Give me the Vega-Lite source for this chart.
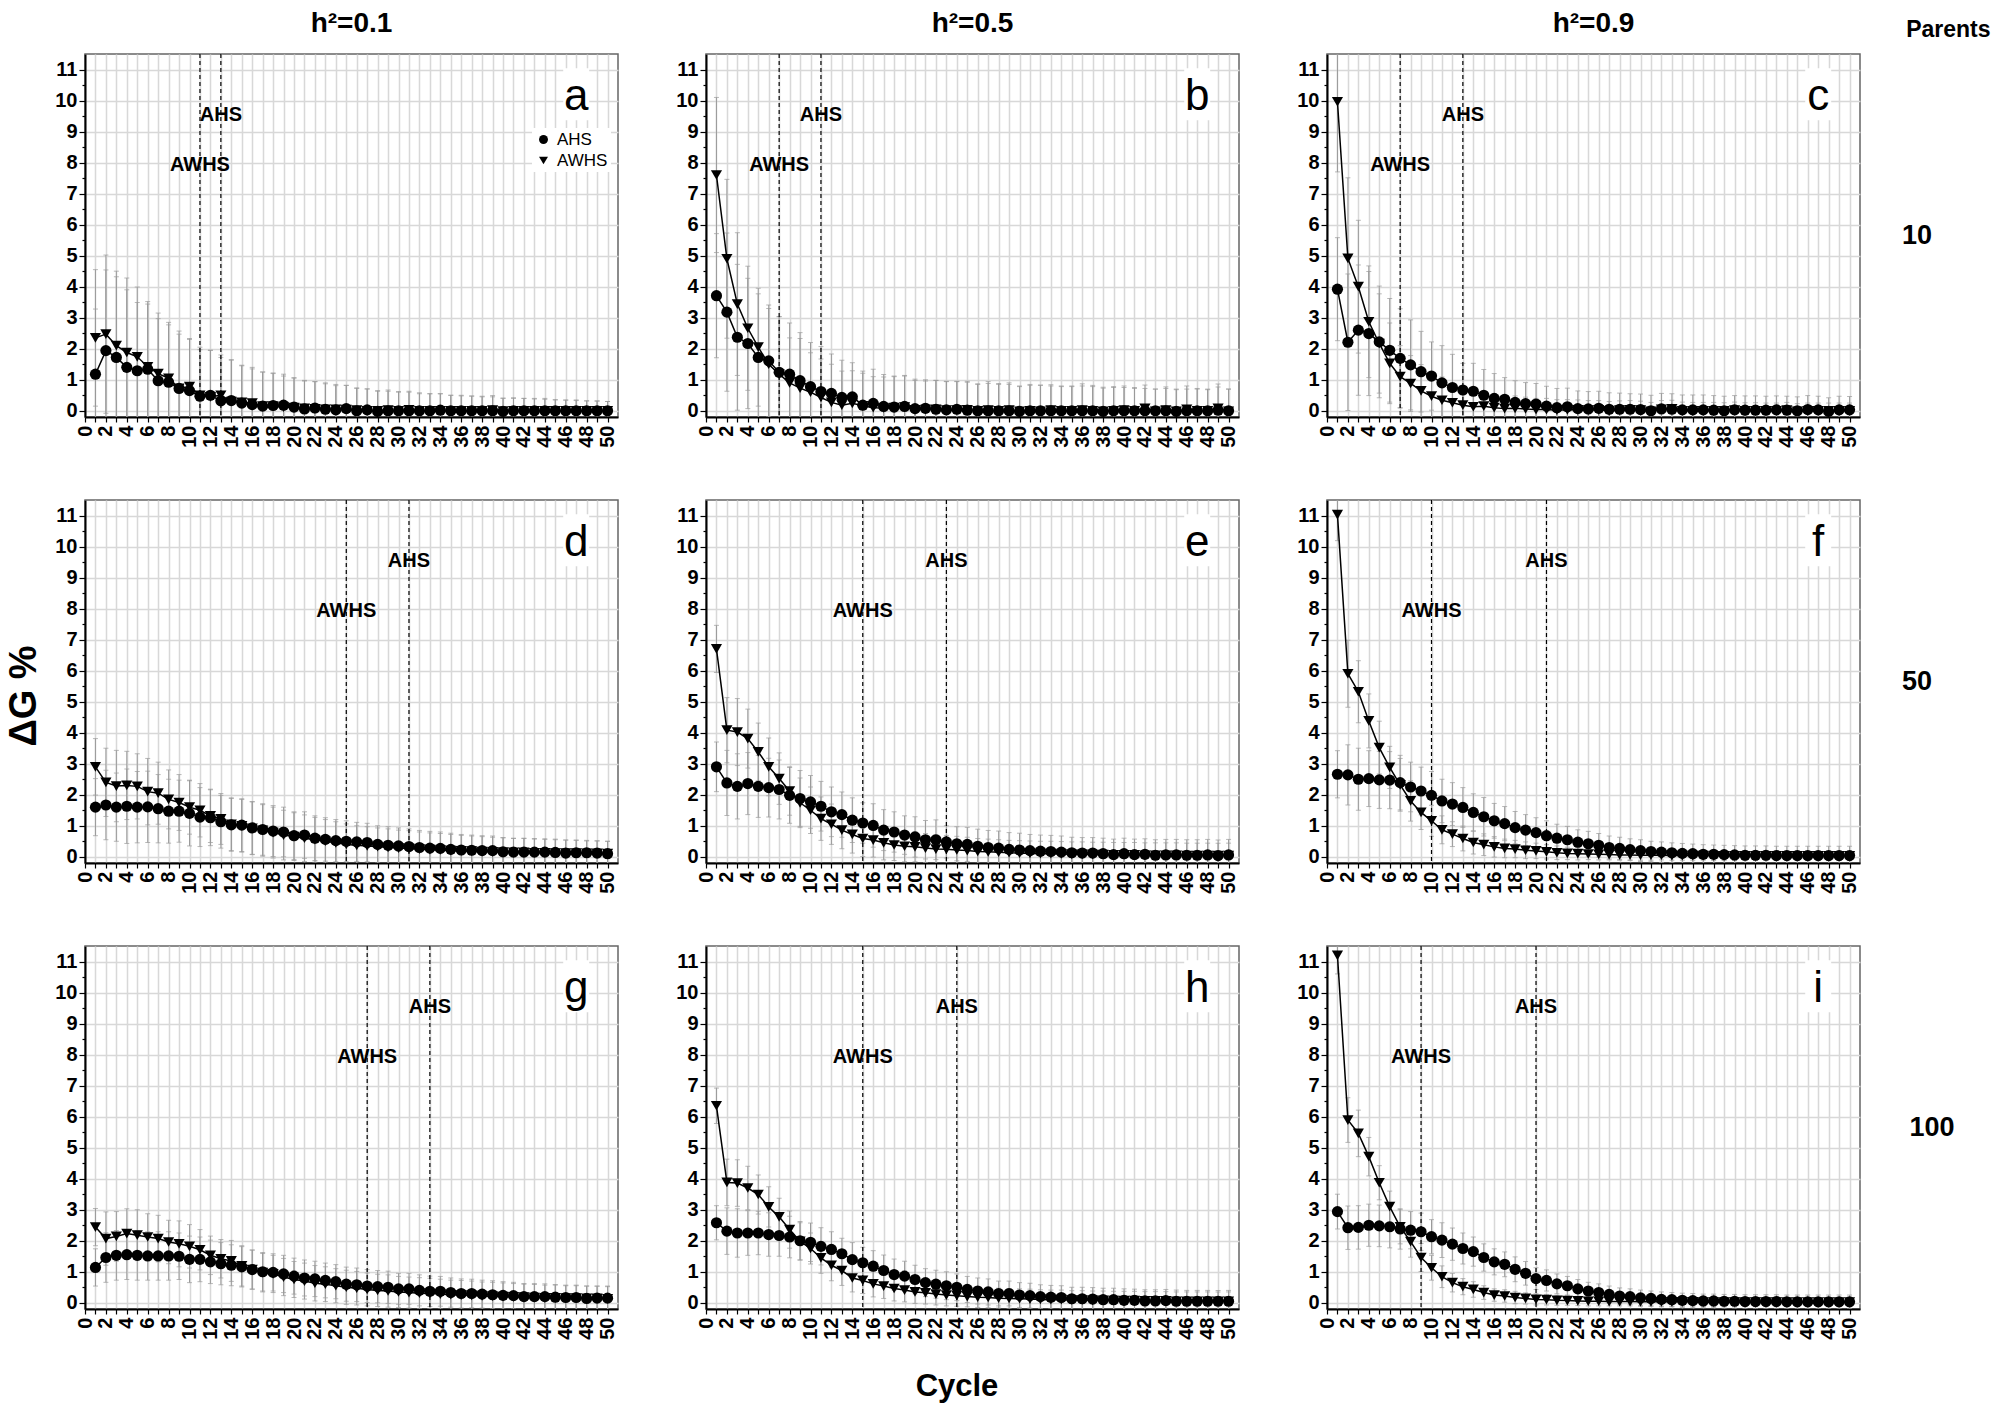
{
"$schema":"https://vega.github.io/schema/vega-lite/v6.json",
"padding":{"left":6,"top":10,"right":5,"bottom":5},
"config":{"font":"Liberation Sans","view":{"stroke":"#666","strokeWidth":1.5},
 "axisX":{"labelAngle":-90,"labelFontSize":20,"labelFontWeight":"bold","labelColor":"black","labelOverlap":false,"labelFlush":false,"labelPadding":3,"tickSize":5,"tickColor":"black","tickWidth":1.2,"domainColor":"black","domainWidth":2,"grid":true,"gridColor":"#d8d8d8","gridWidth":1.5},
 "axisY":{"labelFontSize":20,"labelFontWeight":"bold","labelColor":"black","labelOverlap":false,"labelPadding":2,"tickColor":"black","tickWidth":1.2,"domainColor":"black","domainWidth":2,"grid":true,"gridColor":"#d8d8d8","gridWidth":1.5}},
"title":{"text":"Parents","anchor":"end","fontSize":23,"fontWeight":"bold","color":"black","dy":36,"dx":36},
"data":{"values":[
{"p":"a","s":"AHS","v":13},{"p":"a","s":"AWHS","v":11},
{"p":"b","s":"AHS","v":11},{"p":"b","s":"AWHS","v":7},
{"p":"c","s":"AHS","v":13},{"p":"c","s":"AWHS","v":7},
{"p":"d","s":"AHS","v":31},{"p":"d","s":"AWHS","v":25},
{"p":"e","s":"AHS","v":23},{"p":"e","s":"AWHS","v":15},
{"p":"f","s":"AHS","v":21},{"p":"f","s":"AWHS","v":10},
{"p":"g","s":"AHS","v":33},{"p":"g","s":"AWHS","v":27},
{"p":"h","s":"AHS","v":24},{"p":"h","s":"AWHS","v":15},
{"p":"i","s":"AHS","v":20},{"p":"i","s":"AWHS","v":9},
{"p":"a","s":"AHS","c":1,"m":1.18,"e":2.1},{"p":"a","s":"AHS","c":2,"m":1.94,"e":2.6},{"p":"a","s":"AHS","c":3,"m":1.72,"e":2.6},{"p":"a","s":"AHS","c":4,"m":1.4,"e":2.5},{"p":"a","s":"AHS","c":5,"m":1.29,"e":2.2},{"p":"a","s":"AHS","c":6,"m":1.34,"e":2.1},{"p":"a","s":"AHS","c":7,"m":0.97,"e":2.0},{"p":"a","s":"AHS","c":8,"m":0.92,"e":1.85},{"p":"a","s":"AHS","c":9,"m":0.72,"e":1.75},{"p":"a","s":"AHS","c":10,"m":0.65,"e":1.65},
{"p":"a","s":"AHS","c":11,"m":0.47,"e":1.5},{"p":"a","s":"AHS","c":12,"m":0.5,"e":1.45},{"p":"a","s":"AHS","c":13,"m":0.32,"e":1.4},{"p":"a","s":"AHS","c":14,"m":0.33,"e":1.3},{"p":"a","s":"AHS","c":15,"m":0.25,"e":1.2},{"p":"a","s":"AHS","c":16,"m":0.2,"e":1.15},{"p":"a","s":"AHS","c":17,"m":0.15,"e":1.1},{"p":"a","s":"AHS","c":18,"m":0.17,"e":1.05},{"p":"a","s":"AHS","c":19,"m":0.18,"e":1.0},{"p":"a","s":"AHS","c":20,"m":0.12,"e":0.95},
{"p":"a","s":"AHS","c":21,"m":0.06,"e":0.9},{"p":"a","s":"AHS","c":22,"m":0.09,"e":0.85},{"p":"a","s":"AHS","c":23,"m":0.05,"e":0.82},{"p":"a","s":"AHS","c":24,"m":0.03,"e":0.78},{"p":"a","s":"AHS","c":25,"m":0.07,"e":0.75},{"p":"a","s":"AHS","c":26,"m":0.0,"e":0.72},{"p":"a","s":"AHS","c":27,"m":0.03,"e":0.68},{"p":"a","s":"AHS","c":28,"m":-0.02,"e":0.65},{"p":"a","s":"AHS","c":29,"m":0.0,"e":0.63},{"p":"a","s":"AHS","c":30,"m":0.0,"e":0.6},
{"p":"a","s":"AHS","c":31,"m":0.0,"e":0.6},{"p":"a","s":"AHS","c":32,"m":0.0,"e":0.55},{"p":"a","s":"AHS","c":33,"m":0.0,"e":0.55},{"p":"a","s":"AHS","c":34,"m":0.02,"e":0.53},{"p":"a","s":"AHS","c":35,"m":0.0,"e":0.5},{"p":"a","s":"AHS","c":36,"m":0.0,"e":0.48},{"p":"a","s":"AHS","c":37,"m":0.0,"e":0.47},{"p":"a","s":"AHS","c":38,"m":0.0,"e":0.45},{"p":"a","s":"AHS","c":39,"m":0.0,"e":0.45},{"p":"a","s":"AHS","c":40,"m":-0.02,"e":0.42},
{"p":"a","s":"AHS","c":41,"m":0.0,"e":0.4},{"p":"a","s":"AHS","c":42,"m":0.0,"e":0.4},{"p":"a","s":"AHS","c":43,"m":0.0,"e":0.38},{"p":"a","s":"AHS","c":44,"m":0.0,"e":0.37},{"p":"a","s":"AHS","c":45,"m":0.0,"e":0.35},{"p":"a","s":"AHS","c":46,"m":0.0,"e":0.34},{"p":"a","s":"AHS","c":47,"m":0.0,"e":0.33},{"p":"a","s":"AHS","c":48,"m":0.0,"e":0.32},{"p":"a","s":"AHS","c":49,"m":0.0,"e":0.31},{"p":"a","s":"AHS","c":50,"m":0.0,"e":0.3},
{"p":"a","s":"AWHS","c":1,"m":2.35,"e":2.2},{"p":"a","s":"AWHS","c":2,"m":2.47,"e":2.55},{"p":"a","s":"AWHS","c":3,"m":2.1,"e":2.4},{"p":"a","s":"AWHS","c":4,"m":1.88,"e":2.4},{"p":"a","s":"AWHS","c":5,"m":1.74,"e":2.25},{"p":"a","s":"AWHS","c":6,"m":1.42,"e":2.1},{"p":"a","s":"AWHS","c":7,"m":1.2,"e":1.95},{"p":"a","s":"AWHS","c":8,"m":1.05,"e":1.8},{"p":"a","s":"AWHS","c":9,"m":0.72,"e":1.85},{"p":"a","s":"AWHS","c":10,"m":0.78,"e":1.55},
{"p":"a","s":"AWHS","c":11,"m":0.5,"e":1.55},{"p":"a","s":"AWHS","c":12,"m":0.45,"e":1.5},{"p":"a","s":"AWHS","c":13,"m":0.5,"e":1.3},{"p":"a","s":"AWHS","c":14,"m":0.3,"e":1.35},{"p":"a","s":"AWHS","c":15,"m":0.27,"e":1.2},{"p":"a","s":"AWHS","c":16,"m":0.25,"e":1.15},{"p":"a","s":"AWHS","c":17,"m":0.15,"e":1.1},{"p":"a","s":"AWHS","c":18,"m":0.15,"e":1.05},{"p":"a","s":"AWHS","c":19,"m":0.12,"e":1.0},{"p":"a","s":"AWHS","c":20,"m":0.1,"e":0.95},
{"p":"a","s":"AWHS","c":21,"m":0.08,"e":0.9},{"p":"a","s":"AWHS","c":22,"m":0.06,"e":0.88},{"p":"a","s":"AWHS","c":23,"m":0.05,"e":0.85},{"p":"a","s":"AWHS","c":24,"m":0.05,"e":0.8},{"p":"a","s":"AWHS","c":25,"m":0.04,"e":0.78},{"p":"a","s":"AWHS","c":26,"m":0.02,"e":0.72},{"p":"a","s":"AWHS","c":27,"m":0.0,"e":0.7},{"p":"a","s":"AWHS","c":28,"m":0.0,"e":0.65},{"p":"a","s":"AWHS","c":29,"m":0.02,"e":0.65},{"p":"a","s":"AWHS","c":30,"m":0.0,"e":0.62},
{"p":"a","s":"AWHS","c":31,"m":0.03,"e":0.6},{"p":"a","s":"AWHS","c":32,"m":0.0,"e":0.58},{"p":"a","s":"AWHS","c":33,"m":0.0,"e":0.55},{"p":"a","s":"AWHS","c":34,"m":0.0,"e":0.55},{"p":"a","s":"AWHS","c":35,"m":0.0,"e":0.5},{"p":"a","s":"AWHS","c":36,"m":0.0,"e":0.5},{"p":"a","s":"AWHS","c":37,"m":0.0,"e":0.48},{"p":"a","s":"AWHS","c":38,"m":0.0,"e":0.47},{"p":"a","s":"AWHS","c":39,"m":0.02,"e":0.47},{"p":"a","s":"AWHS","c":40,"m":-0.01,"e":0.42},
{"p":"a","s":"AWHS","c":41,"m":0.0,"e":0.42},{"p":"a","s":"AWHS","c":42,"m":0.0,"e":0.4},{"p":"a","s":"AWHS","c":43,"m":0.0,"e":0.4},{"p":"a","s":"AWHS","c":44,"m":0.0,"e":0.4},{"p":"a","s":"AWHS","c":45,"m":0.0,"e":0.36},{"p":"a","s":"AWHS","c":46,"m":0.0,"e":0.35},{"p":"a","s":"AWHS","c":47,"m":0.0,"e":0.35},{"p":"a","s":"AWHS","c":48,"m":0.0,"e":0.32},{"p":"a","s":"AWHS","c":49,"m":0.0,"e":0.32},{"p":"a","s":"AWHS","c":50,"m":0.0,"e":0.3},
{"p":"b","s":"AHS","c":1,"m":3.71,"e":2.0},{"p":"b","s":"AHS","c":2,"m":3.18,"e":2.55},{"p":"b","s":"AHS","c":3,"m":2.37,"e":2.35},{"p":"b","s":"AHS","c":4,"m":2.17,"e":2.1},{"p":"b","s":"AHS","c":5,"m":1.72,"e":2.05},{"p":"b","s":"AHS","c":6,"m":1.61,"e":1.8},{"p":"b","s":"AHS","c":7,"m":1.24,"e":1.8},{"p":"b","s":"AHS","c":8,"m":1.18,"e":1.65},{"p":"b","s":"AHS","c":9,"m":0.97,"e":1.55},{"p":"b","s":"AHS","c":10,"m":0.78,"e":1.42},
{"p":"b","s":"AHS","c":11,"m":0.62,"e":1.45},{"p":"b","s":"AHS","c":12,"m":0.56,"e":1.27},{"p":"b","s":"AHS","c":13,"m":0.43,"e":1.2},{"p":"b","s":"AHS","c":14,"m":0.45,"e":1.1},{"p":"b","s":"AHS","c":15,"m":0.18,"e":1.1},{"p":"b","s":"AHS","c":16,"m":0.24,"e":1.1},{"p":"b","s":"AHS","c":17,"m":0.14,"e":1.03},{"p":"b","s":"AHS","c":18,"m":0.12,"e":1.0},{"p":"b","s":"AHS","c":19,"m":0.14,"e":1.0},{"p":"b","s":"AHS","c":20,"m":0.07,"e":0.95},
{"p":"b","s":"AHS","c":21,"m":0.08,"e":0.92},{"p":"b","s":"AHS","c":22,"m":0.05,"e":0.93},{"p":"b","s":"AHS","c":23,"m":0.03,"e":0.92},{"p":"b","s":"AHS","c":24,"m":0.05,"e":0.9},{"p":"b","s":"AHS","c":25,"m":0.02,"e":0.9},{"p":"b","s":"AHS","c":26,"m":0.0,"e":0.85},{"p":"b","s":"AHS","c":27,"m":0.0,"e":0.88},{"p":"b","s":"AHS","c":28,"m":0.0,"e":0.85},{"p":"b","s":"AHS","c":29,"m":0.0,"e":0.85},{"p":"b","s":"AHS","c":30,"m":-0.02,"e":0.8},
{"p":"b","s":"AHS","c":31,"m":0.0,"e":0.82},{"p":"b","s":"AHS","c":32,"m":0.0,"e":0.82},{"p":"b","s":"AHS","c":33,"m":0.0,"e":0.8},{"p":"b","s":"AHS","c":34,"m":0.0,"e":0.78},{"p":"b","s":"AHS","c":35,"m":0.0,"e":0.78},{"p":"b","s":"AHS","c":36,"m":0.0,"e":0.8},{"p":"b","s":"AHS","c":37,"m":0.0,"e":0.78},{"p":"b","s":"AHS","c":38,"m":-0.02,"e":0.75},{"p":"b","s":"AHS","c":39,"m":0.0,"e":0.75},{"p":"b","s":"AHS","c":40,"m":0.0,"e":0.75},
{"p":"b","s":"AHS","c":41,"m":0.0,"e":0.72},{"p":"b","s":"AHS","c":42,"m":0.0,"e":0.72},{"p":"b","s":"AHS","c":43,"m":0.0,"e":0.7},{"p":"b","s":"AHS","c":44,"m":0.0,"e":0.72},{"p":"b","s":"AHS","c":45,"m":-0.02,"e":0.7},{"p":"b","s":"AHS","c":46,"m":0.0,"e":0.7},{"p":"b","s":"AHS","c":47,"m":0.0,"e":0.7},{"p":"b","s":"AHS","c":48,"m":0.0,"e":0.68},{"p":"b","s":"AHS","c":49,"m":0.02,"e":0.75},{"p":"b","s":"AHS","c":50,"m":0.0,"e":0.7},
{"p":"b","s":"AWHS","c":1,"m":7.6,"e":2.5},{"p":"b","s":"AWHS","c":2,"m":4.9,"e":2.56},{"p":"b","s":"AWHS","c":3,"m":3.44,"e":2.3},{"p":"b","s":"AWHS","c":4,"m":2.66,"e":2.0},{"p":"b","s":"AWHS","c":5,"m":2.05,"e":1.9},{"p":"b","s":"AWHS","c":6,"m":1.5,"e":1.8},{"p":"b","s":"AWHS","c":7,"m":1.18,"e":1.85},{"p":"b","s":"AWHS","c":8,"m":0.9,"e":1.45},{"p":"b","s":"AWHS","c":9,"m":0.73,"e":1.6},{"p":"b","s":"AWHS","c":10,"m":0.6,"e":1.27},
{"p":"b","s":"AWHS","c":11,"m":0.43,"e":1.24},{"p":"b","s":"AWHS","c":12,"m":0.27,"e":1.23},{"p":"b","s":"AWHS","c":13,"m":0.18,"e":1.1},{"p":"b","s":"AWHS","c":14,"m":0.24,"e":1.05},{"p":"b","s":"AWHS","c":15,"m":0.16,"e":1.05},{"p":"b","s":"AWHS","c":16,"m":0.1,"e":1.0},{"p":"b","s":"AWHS","c":17,"m":0.09,"e":1.0},{"p":"b","s":"AWHS","c":18,"m":0.1,"e":1.0},{"p":"b","s":"AWHS","c":19,"m":0.12,"e":1.0},{"p":"b","s":"AWHS","c":20,"m":0.03,"e":0.95},
{"p":"b","s":"AWHS","c":21,"m":0.04,"e":0.92},{"p":"b","s":"AWHS","c":22,"m":0.05,"e":0.93},{"p":"b","s":"AWHS","c":23,"m":0.02,"e":0.92},{"p":"b","s":"AWHS","c":24,"m":0.02,"e":0.92},{"p":"b","s":"AWHS","c":25,"m":0.03,"e":0.92},{"p":"b","s":"AWHS","c":26,"m":0.0,"e":0.87},{"p":"b","s":"AWHS","c":27,"m":0.02,"e":0.92},{"p":"b","s":"AWHS","c":28,"m":0.0,"e":0.88},{"p":"b","s":"AWHS","c":29,"m":0.02,"e":0.88},{"p":"b","s":"AWHS","c":30,"m":-0.02,"e":0.82},
{"p":"b","s":"AWHS","c":31,"m":0.0,"e":0.85},{"p":"b","s":"AWHS","c":32,"m":-0.02,"e":0.85},{"p":"b","s":"AWHS","c":33,"m":0.02,"e":0.82},{"p":"b","s":"AWHS","c":34,"m":0.0,"e":0.8},{"p":"b","s":"AWHS","c":35,"m":0.0,"e":0.8},{"p":"b","s":"AWHS","c":36,"m":0.02,"e":0.85},{"p":"b","s":"AWHS","c":37,"m":0.0,"e":0.82},{"p":"b","s":"AWHS","c":38,"m":-0.02,"e":0.78},{"p":"b","s":"AWHS","c":39,"m":0.0,"e":0.78},{"p":"b","s":"AWHS","c":40,"m":0.02,"e":0.78},
{"p":"b","s":"AWHS","c":41,"m":0.0,"e":0.75},{"p":"b","s":"AWHS","c":42,"m":0.08,"e":0.75},{"p":"b","s":"AWHS","c":43,"m":-0.02,"e":0.72},{"p":"b","s":"AWHS","c":44,"m":0.02,"e":0.75},{"p":"b","s":"AWHS","c":45,"m":-0.02,"e":0.72},{"p":"b","s":"AWHS","c":46,"m":0.05,"e":0.75},{"p":"b","s":"AWHS","c":47,"m":0.0,"e":0.72},{"p":"b","s":"AWHS","c":48,"m":0.0,"e":0.7},{"p":"b","s":"AWHS","c":49,"m":0.08,"e":0.78},{"p":"b","s":"AWHS","c":50,"m":-0.02,"e":0.72},
{"p":"c","s":"AHS","c":1,"m":3.92,"e":1.66},{"p":"c","s":"AHS","c":2,"m":2.21,"e":2.2},{"p":"c","s":"AHS","c":3,"m":2.6,"e":2.1},{"p":"c","s":"AHS","c":4,"m":2.49,"e":2.0},{"p":"c","s":"AHS","c":5,"m":2.22,"e":1.8},{"p":"c","s":"AHS","c":6,"m":1.95,"e":1.67},{"p":"c","s":"AHS","c":7,"m":1.69,"e":1.6},{"p":"c","s":"AHS","c":8,"m":1.48,"e":1.45},{"p":"c","s":"AHS","c":9,"m":1.26,"e":1.3},{"p":"c","s":"AHS","c":10,"m":1.12,"e":1.1},
{"p":"c","s":"AHS","c":11,"m":0.9,"e":1.2},{"p":"c","s":"AHS","c":12,"m":0.75,"e":1.07},{"p":"c","s":"AHS","c":13,"m":0.67,"e":0.86},{"p":"c","s":"AHS","c":14,"m":0.63,"e":0.9},{"p":"c","s":"AHS","c":15,"m":0.5,"e":0.83},{"p":"c","s":"AHS","c":16,"m":0.4,"e":0.8},{"p":"c","s":"AHS","c":17,"m":0.37,"e":0.7},{"p":"c","s":"AHS","c":18,"m":0.27,"e":0.7},{"p":"c","s":"AHS","c":19,"m":0.23,"e":0.68},{"p":"c","s":"AHS","c":20,"m":0.22,"e":0.66},
{"p":"c","s":"AHS","c":21,"m":0.15,"e":0.64},{"p":"c","s":"AHS","c":22,"m":0.1,"e":0.62},{"p":"c","s":"AHS","c":23,"m":0.13,"e":0.6},{"p":"c","s":"AHS","c":24,"m":0.07,"e":0.57},{"p":"c","s":"AHS","c":25,"m":0.06,"e":0.56},{"p":"c","s":"AHS","c":26,"m":0.08,"e":0.55},{"p":"c","s":"AHS","c":27,"m":0.05,"e":0.53},{"p":"c","s":"AHS","c":28,"m":0.05,"e":0.52},{"p":"c","s":"AHS","c":29,"m":0.05,"e":0.5},{"p":"c","s":"AHS","c":30,"m":0.04,"e":0.5},
{"p":"c","s":"AHS","c":31,"m":0.0,"e":0.5},{"p":"c","s":"AHS","c":32,"m":0.06,"e":0.5},{"p":"c","s":"AHS","c":33,"m":0.05,"e":0.5},{"p":"c","s":"AHS","c":34,"m":0.03,"e":0.48},{"p":"c","s":"AHS","c":35,"m":0.03,"e":0.48},{"p":"c","s":"AHS","c":36,"m":0.03,"e":0.48},{"p":"c","s":"AHS","c":37,"m":0.02,"e":0.47},{"p":"c","s":"AHS","c":38,"m":0.0,"e":0.47},{"p":"c","s":"AHS","c":39,"m":0.03,"e":0.46},{"p":"c","s":"AHS","c":40,"m":0.02,"e":0.46},
{"p":"c","s":"AHS","c":41,"m":0.02,"e":0.46},{"p":"c","s":"AHS","c":42,"m":0.02,"e":0.45},{"p":"c","s":"AHS","c":43,"m":0.03,"e":0.45},{"p":"c","s":"AHS","c":44,"m":0.02,"e":0.45},{"p":"c","s":"AHS","c":45,"m":0.0,"e":0.45},{"p":"c","s":"AHS","c":46,"m":0.04,"e":0.45},{"p":"c","s":"AHS","c":47,"m":0.03,"e":0.44},{"p":"c","s":"AHS","c":48,"m":-0.02,"e":0.44},{"p":"c","s":"AHS","c":49,"m":0.03,"e":0.44},{"p":"c","s":"AHS","c":50,"m":0.03,"e":0.43},
{"p":"c","s":"AWHS","c":1,"m":9.96,"e":2.26},{"p":"c","s":"AWHS","c":2,"m":4.91,"e":2.6},{"p":"c","s":"AWHS","c":3,"m":4.0,"e":2.14},{"p":"c","s":"AWHS","c":4,"m":2.87,"e":1.8},{"p":"c","s":"AWHS","c":5,"m":2.17,"e":1.6},{"p":"c","s":"AWHS","c":6,"m":1.53,"e":1.3},{"p":"c","s":"AWHS","c":7,"m":1.1,"e":1.0},{"p":"c","s":"AWHS","c":8,"m":0.88,"e":0.9},{"p":"c","s":"AWHS","c":9,"m":0.64,"e":0.85},{"p":"c","s":"AWHS","c":10,"m":0.47,"e":0.8},
{"p":"c","s":"AWHS","c":11,"m":0.34,"e":0.75},{"p":"c","s":"AWHS","c":12,"m":0.26,"e":0.62},{"p":"c","s":"AWHS","c":13,"m":0.18,"e":0.54},{"p":"c","s":"AWHS","c":14,"m":0.13,"e":0.5},{"p":"c","s":"AWHS","c":15,"m":0.15,"e":0.45},{"p":"c","s":"AWHS","c":16,"m":0.1,"e":0.45},{"p":"c","s":"AWHS","c":17,"m":0.07,"e":0.4},{"p":"c","s":"AWHS","c":18,"m":0.08,"e":0.4},{"p":"c","s":"AWHS","c":19,"m":0.06,"e":0.38},{"p":"c","s":"AWHS","c":20,"m":0.04,"e":0.36},
{"p":"c","s":"AWHS","c":21,"m":0.04,"e":0.36},{"p":"c","s":"AWHS","c":22,"m":0.02,"e":0.34},{"p":"c","s":"AWHS","c":23,"m":0.03,"e":0.33},{"p":"c","s":"AWHS","c":24,"m":0.03,"e":0.32},{"p":"c","s":"AWHS","c":25,"m":0.02,"e":0.31},{"p":"c","s":"AWHS","c":26,"m":0.03,"e":0.3},{"p":"c","s":"AWHS","c":27,"m":0.0,"e":0.3},{"p":"c","s":"AWHS","c":28,"m":0.02,"e":0.3},{"p":"c","s":"AWHS","c":29,"m":0.03,"e":0.3},{"p":"c","s":"AWHS","c":30,"m":0.02,"e":0.29},
{"p":"c","s":"AWHS","c":31,"m":-0.02,"e":0.29},{"p":"c","s":"AWHS","c":32,"m":0.05,"e":0.28},{"p":"c","s":"AWHS","c":33,"m":0.06,"e":0.28},{"p":"c","s":"AWHS","c":34,"m":0.0,"e":0.28},{"p":"c","s":"AWHS","c":35,"m":0.0,"e":0.27},{"p":"c","s":"AWHS","c":36,"m":0.0,"e":0.27},{"p":"c","s":"AWHS","c":37,"m":0.0,"e":0.27},{"p":"c","s":"AWHS","c":38,"m":0.0,"e":0.26},{"p":"c","s":"AWHS","c":39,"m":0.02,"e":0.26},{"p":"c","s":"AWHS","c":40,"m":0.0,"e":0.26},
{"p":"c","s":"AWHS","c":41,"m":0.0,"e":0.26},{"p":"c","s":"AWHS","c":42,"m":0.0,"e":0.25},{"p":"c","s":"AWHS","c":43,"m":0.0,"e":0.25},{"p":"c","s":"AWHS","c":44,"m":0.02,"e":0.25},{"p":"c","s":"AWHS","c":45,"m":-0.02,"e":0.25},{"p":"c","s":"AWHS","c":46,"m":0.0,"e":0.25},{"p":"c","s":"AWHS","c":47,"m":0.0,"e":0.25},{"p":"c","s":"AWHS","c":48,"m":0.0,"e":0.25},{"p":"c","s":"AWHS","c":49,"m":0.0,"e":0.25},{"p":"c","s":"AWHS","c":50,"m":0.0,"e":0.25},
{"p":"d","s":"AHS","c":1,"m":1.6,"e":0.92},{"p":"d","s":"AHS","c":2,"m":1.67,"e":1.12},{"p":"d","s":"AHS","c":3,"m":1.6,"e":1.1},{"p":"d","s":"AHS","c":4,"m":1.63,"e":1.2},{"p":"d","s":"AHS","c":5,"m":1.6,"e":1.15},{"p":"d","s":"AHS","c":6,"m":1.61,"e":1.15},{"p":"d","s":"AHS","c":7,"m":1.55,"e":1.1},{"p":"d","s":"AHS","c":8,"m":1.47,"e":1.03},{"p":"d","s":"AHS","c":9,"m":1.47,"e":1.0},{"p":"d","s":"AHS","c":10,"m":1.4,"e":1.05},
{"p":"d","s":"AHS","c":11,"m":1.28,"e":0.95},{"p":"d","s":"AHS","c":12,"m":1.26,"e":0.9},{"p":"d","s":"AHS","c":13,"m":1.13,"e":0.85},{"p":"d","s":"AHS","c":14,"m":1.03,"e":0.85},{"p":"d","s":"AHS","c":15,"m":1.02,"e":0.85},{"p":"d","s":"AHS","c":16,"m":0.93,"e":0.85},{"p":"d","s":"AHS","c":17,"m":0.88,"e":0.83},{"p":"d","s":"AHS","c":18,"m":0.83,"e":0.82},{"p":"d","s":"AHS","c":19,"m":0.8,"e":0.8},{"p":"d","s":"AHS","c":20,"m":0.68,"e":0.77},
{"p":"d","s":"AHS","c":21,"m":0.7,"e":0.75},{"p":"d","s":"AHS","c":22,"m":0.6,"e":0.72},{"p":"d","s":"AHS","c":23,"m":0.56,"e":0.7},{"p":"d","s":"AHS","c":24,"m":0.52,"e":0.68},{"p":"d","s":"AHS","c":25,"m":0.5,"e":0.66},{"p":"d","s":"AHS","c":26,"m":0.48,"e":0.63},{"p":"d","s":"AHS","c":27,"m":0.46,"e":0.62},{"p":"d","s":"AHS","c":28,"m":0.4,"e":0.6},{"p":"d","s":"AHS","c":29,"m":0.37,"e":0.6},{"p":"d","s":"AHS","c":30,"m":0.35,"e":0.58},
{"p":"d","s":"AHS","c":31,"m":0.33,"e":0.57},{"p":"d","s":"AHS","c":32,"m":0.3,"e":0.55},{"p":"d","s":"AHS","c":33,"m":0.28,"e":0.54},{"p":"d","s":"AHS","c":34,"m":0.27,"e":0.53},{"p":"d","s":"AHS","c":35,"m":0.24,"e":0.52},{"p":"d","s":"AHS","c":36,"m":0.22,"e":0.5},{"p":"d","s":"AHS","c":37,"m":0.21,"e":0.49},{"p":"d","s":"AHS","c":38,"m":0.2,"e":0.48},{"p":"d","s":"AHS","c":39,"m":0.2,"e":0.47},{"p":"d","s":"AHS","c":40,"m":0.16,"e":0.46},
{"p":"d","s":"AHS","c":41,"m":0.15,"e":0.45},{"p":"d","s":"AHS","c":42,"m":0.15,"e":0.45},{"p":"d","s":"AHS","c":43,"m":0.15,"e":0.44},{"p":"d","s":"AHS","c":44,"m":0.15,"e":0.43},{"p":"d","s":"AHS","c":45,"m":0.14,"e":0.43},{"p":"d","s":"AHS","c":46,"m":0.12,"e":0.42},{"p":"d","s":"AHS","c":47,"m":0.13,"e":0.41},{"p":"d","s":"AHS","c":48,"m":0.13,"e":0.4},{"p":"d","s":"AHS","c":49,"m":0.12,"e":0.4},{"p":"d","s":"AHS","c":50,"m":0.1,"e":0.4},
{"p":"d","s":"AWHS","c":1,"m":2.9,"e":0.91},{"p":"d","s":"AWHS","c":2,"m":2.4,"e":1.1},{"p":"d","s":"AWHS","c":3,"m":2.28,"e":1.15},{"p":"d","s":"AWHS","c":4,"m":2.3,"e":1.1},{"p":"d","s":"AWHS","c":5,"m":2.27,"e":1.05},{"p":"d","s":"AWHS","c":6,"m":2.1,"e":1.07},{"p":"d","s":"AWHS","c":7,"m":2.05,"e":1.0},{"p":"d","s":"AWHS","c":8,"m":1.85,"e":0.95},{"p":"d","s":"AWHS","c":9,"m":1.75,"e":0.9},{"p":"d","s":"AWHS","c":10,"m":1.6,"e":0.87},
{"p":"d","s":"AWHS","c":11,"m":1.5,"e":0.86},{"p":"d","s":"AWHS","c":12,"m":1.32,"e":0.86},{"p":"d","s":"AWHS","c":13,"m":1.22,"e":0.82},{"p":"d","s":"AWHS","c":14,"m":1.05,"e":0.85},{"p":"d","s":"AWHS","c":15,"m":1.0,"e":0.85},{"p":"d","s":"AWHS","c":16,"m":0.92,"e":0.85},{"p":"d","s":"AWHS","c":17,"m":0.85,"e":0.83},{"p":"d","s":"AWHS","c":18,"m":0.78,"e":0.82},{"p":"d","s":"AWHS","c":19,"m":0.7,"e":0.8},{"p":"d","s":"AWHS","c":20,"m":0.65,"e":0.77},
{"p":"d","s":"AWHS","c":21,"m":0.6,"e":0.75},{"p":"d","s":"AWHS","c":22,"m":0.55,"e":0.72},{"p":"d","s":"AWHS","c":23,"m":0.5,"e":0.7},{"p":"d","s":"AWHS","c":24,"m":0.45,"e":0.68},{"p":"d","s":"AWHS","c":25,"m":0.4,"e":0.66},{"p":"d","s":"AWHS","c":26,"m":0.37,"e":0.63},{"p":"d","s":"AWHS","c":27,"m":0.35,"e":0.62},{"p":"d","s":"AWHS","c":28,"m":0.33,"e":0.6},{"p":"d","s":"AWHS","c":29,"m":0.3,"e":0.6},{"p":"d","s":"AWHS","c":30,"m":0.28,"e":0.58},
{"p":"d","s":"AWHS","c":31,"m":0.27,"e":0.57},{"p":"d","s":"AWHS","c":32,"m":0.25,"e":0.55},{"p":"d","s":"AWHS","c":33,"m":0.23,"e":0.54},{"p":"d","s":"AWHS","c":34,"m":0.22,"e":0.53},{"p":"d","s":"AWHS","c":35,"m":0.2,"e":0.52},{"p":"d","s":"AWHS","c":36,"m":0.19,"e":0.5},{"p":"d","s":"AWHS","c":37,"m":0.18,"e":0.49},{"p":"d","s":"AWHS","c":38,"m":0.17,"e":0.48},{"p":"d","s":"AWHS","c":39,"m":0.16,"e":0.47},{"p":"d","s":"AWHS","c":40,"m":0.15,"e":0.46},
{"p":"d","s":"AWHS","c":41,"m":0.14,"e":0.45},{"p":"d","s":"AWHS","c":42,"m":0.14,"e":0.45},{"p":"d","s":"AWHS","c":43,"m":0.13,"e":0.44},{"p":"d","s":"AWHS","c":44,"m":0.13,"e":0.43},{"p":"d","s":"AWHS","c":45,"m":0.12,"e":0.43},{"p":"d","s":"AWHS","c":46,"m":0.12,"e":0.42},{"p":"d","s":"AWHS","c":47,"m":0.12,"e":0.41},{"p":"d","s":"AWHS","c":48,"m":0.11,"e":0.4},{"p":"d","s":"AWHS","c":49,"m":0.11,"e":0.4},{"p":"d","s":"AWHS","c":50,"m":0.1,"e":0.4},
{"p":"e","s":"AHS","c":1,"m":2.9,"e":0.8},{"p":"e","s":"AHS","c":2,"m":2.38,"e":1.05},{"p":"e","s":"AHS","c":3,"m":2.27,"e":1.05},{"p":"e","s":"AHS","c":4,"m":2.36,"e":1.0},{"p":"e","s":"AHS","c":5,"m":2.27,"e":1.0},{"p":"e","s":"AHS","c":6,"m":2.23,"e":0.95},{"p":"e","s":"AHS","c":7,"m":2.17,"e":0.95},{"p":"e","s":"AHS","c":8,"m":1.98,"e":0.9},{"p":"e","s":"AHS","c":9,"m":1.88,"e":0.9},{"p":"e","s":"AHS","c":10,"m":1.77,"e":0.85},
{"p":"e","s":"AHS","c":11,"m":1.63,"e":0.8},{"p":"e","s":"AHS","c":12,"m":1.45,"e":0.8},{"p":"e","s":"AHS","c":13,"m":1.36,"e":0.73},{"p":"e","s":"AHS","c":14,"m":1.18,"e":0.72},{"p":"e","s":"AHS","c":15,"m":1.09,"e":0.65},{"p":"e","s":"AHS","c":16,"m":1.01,"e":0.7},{"p":"e","s":"AHS","c":17,"m":0.86,"e":0.66},{"p":"e","s":"AHS","c":18,"m":0.8,"e":0.65},{"p":"e","s":"AHS","c":19,"m":0.7,"e":0.62},{"p":"e","s":"AHS","c":20,"m":0.64,"e":0.65},
{"p":"e","s":"AHS","c":21,"m":0.55,"e":0.62},{"p":"e","s":"AHS","c":22,"m":0.55,"e":0.64},{"p":"e","s":"AHS","c":23,"m":0.48,"e":0.52},{"p":"e","s":"AHS","c":24,"m":0.42,"e":0.55},{"p":"e","s":"AHS","c":25,"m":0.4,"e":0.55},{"p":"e","s":"AHS","c":26,"m":0.34,"e":0.55},{"p":"e","s":"AHS","c":27,"m":0.3,"e":0.55},{"p":"e","s":"AHS","c":28,"m":0.28,"e":0.55},{"p":"e","s":"AHS","c":29,"m":0.24,"e":0.54},{"p":"e","s":"AHS","c":30,"m":0.22,"e":0.54},
{"p":"e","s":"AHS","c":31,"m":0.2,"e":0.52},{"p":"e","s":"AHS","c":32,"m":0.18,"e":0.52},{"p":"e","s":"AHS","c":33,"m":0.17,"e":0.52},{"p":"e","s":"AHS","c":34,"m":0.15,"e":0.52},{"p":"e","s":"AHS","c":35,"m":0.13,"e":0.5},{"p":"e","s":"AHS","c":36,"m":0.12,"e":0.5},{"p":"e","s":"AHS","c":37,"m":0.12,"e":0.5},{"p":"e","s":"AHS","c":38,"m":0.1,"e":0.5},{"p":"e","s":"AHS","c":39,"m":0.07,"e":0.5},{"p":"e","s":"AHS","c":40,"m":0.1,"e":0.5},
{"p":"e","s":"AHS","c":41,"m":0.07,"e":0.5},{"p":"e","s":"AHS","c":42,"m":0.08,"e":0.5},{"p":"e","s":"AHS","c":43,"m":0.05,"e":0.5},{"p":"e","s":"AHS","c":44,"m":0.06,"e":0.5},{"p":"e","s":"AHS","c":45,"m":0.06,"e":0.5},{"p":"e","s":"AHS","c":46,"m":0.05,"e":0.5},{"p":"e","s":"AHS","c":47,"m":0.05,"e":0.5},{"p":"e","s":"AHS","c":48,"m":0.06,"e":0.5},{"p":"e","s":"AHS","c":49,"m":0.04,"e":0.5},{"p":"e","s":"AHS","c":50,"m":0.06,"e":0.5},
{"p":"e","s":"AWHS","c":1,"m":6.7,"e":0.76},{"p":"e","s":"AWHS","c":2,"m":4.08,"e":1.05},{"p":"e","s":"AWHS","c":3,"m":4.02,"e":1.08},{"p":"e","s":"AWHS","c":4,"m":3.81,"e":0.95},{"p":"e","s":"AWHS","c":5,"m":3.38,"e":0.93},{"p":"e","s":"AWHS","c":6,"m":2.9,"e":0.93},{"p":"e","s":"AWHS","c":7,"m":2.52,"e":0.83},{"p":"e","s":"AWHS","c":8,"m":2.12,"e":0.78},{"p":"e","s":"AWHS","c":9,"m":1.74,"e":0.8},{"p":"e","s":"AWHS","c":10,"m":1.5,"e":0.75},
{"p":"e","s":"AWHS","c":11,"m":1.23,"e":0.7},{"p":"e","s":"AWHS","c":12,"m":1.05,"e":0.65},{"p":"e","s":"AWHS","c":13,"m":0.86,"e":0.6},{"p":"e","s":"AWHS","c":14,"m":0.72,"e":0.6},{"p":"e","s":"AWHS","c":15,"m":0.59,"e":0.58},{"p":"e","s":"AWHS","c":16,"m":0.54,"e":0.55},{"p":"e","s":"AWHS","c":17,"m":0.45,"e":0.55},{"p":"e","s":"AWHS","c":18,"m":0.38,"e":0.5},{"p":"e","s":"AWHS","c":19,"m":0.34,"e":0.5},{"p":"e","s":"AWHS","c":20,"m":0.32,"e":0.48},
{"p":"e","s":"AWHS","c":21,"m":0.28,"e":0.47},{"p":"e","s":"AWHS","c":22,"m":0.25,"e":0.46},{"p":"e","s":"AWHS","c":23,"m":0.24,"e":0.45},{"p":"e","s":"AWHS","c":24,"m":0.22,"e":0.44},{"p":"e","s":"AWHS","c":25,"m":0.2,"e":0.43},{"p":"e","s":"AWHS","c":26,"m":0.17,"e":0.42},{"p":"e","s":"AWHS","c":27,"m":0.16,"e":0.41},{"p":"e","s":"AWHS","c":28,"m":0.15,"e":0.4},{"p":"e","s":"AWHS","c":29,"m":0.13,"e":0.4},{"p":"e","s":"AWHS","c":30,"m":0.12,"e":0.4},
{"p":"e","s":"AWHS","c":31,"m":0.11,"e":0.4},{"p":"e","s":"AWHS","c":32,"m":0.1,"e":0.4},{"p":"e","s":"AWHS","c":33,"m":0.1,"e":0.4},{"p":"e","s":"AWHS","c":34,"m":0.09,"e":0.4},{"p":"e","s":"AWHS","c":35,"m":0.08,"e":0.4},{"p":"e","s":"AWHS","c":36,"m":0.08,"e":0.4},{"p":"e","s":"AWHS","c":37,"m":0.07,"e":0.4},{"p":"e","s":"AWHS","c":38,"m":0.07,"e":0.4},{"p":"e","s":"AWHS","c":39,"m":0.06,"e":0.4},{"p":"e","s":"AWHS","c":40,"m":0.06,"e":0.4},
{"p":"e","s":"AWHS","c":41,"m":0.06,"e":0.4},{"p":"e","s":"AWHS","c":42,"m":0.05,"e":0.4},{"p":"e","s":"AWHS","c":43,"m":0.05,"e":0.4},{"p":"e","s":"AWHS","c":44,"m":0.05,"e":0.4},{"p":"e","s":"AWHS","c":45,"m":0.05,"e":0.4},{"p":"e","s":"AWHS","c":46,"m":0.04,"e":0.4},{"p":"e","s":"AWHS","c":47,"m":0.04,"e":0.4},{"p":"e","s":"AWHS","c":48,"m":0.04,"e":0.4},{"p":"e","s":"AWHS","c":49,"m":0.04,"e":0.4},{"p":"e","s":"AWHS","c":50,"m":0.04,"e":0.4},
{"p":"f","s":"AHS","c":1,"m":2.66,"e":0.76},{"p":"f","s":"AHS","c":2,"m":2.64,"e":0.97},{"p":"f","s":"AHS","c":3,"m":2.5,"e":1.0},{"p":"f","s":"AHS","c":4,"m":2.52,"e":0.9},{"p":"f","s":"AHS","c":5,"m":2.48,"e":0.92},{"p":"f","s":"AHS","c":6,"m":2.47,"e":0.92},{"p":"f","s":"AHS","c":7,"m":2.39,"e":0.88},{"p":"f","s":"AHS","c":8,"m":2.25,"e":0.8},{"p":"f","s":"AHS","c":9,"m":2.12,"e":0.77},{"p":"f","s":"AHS","c":10,"m":1.98,"e":0.77},
{"p":"f","s":"AHS","c":11,"m":1.8,"e":0.7},{"p":"f","s":"AHS","c":12,"m":1.7,"e":0.69},{"p":"f","s":"AHS","c":13,"m":1.59,"e":0.64},{"p":"f","s":"AHS","c":14,"m":1.43,"e":0.6},{"p":"f","s":"AHS","c":15,"m":1.29,"e":0.62},{"p":"f","s":"AHS","c":16,"m":1.16,"e":0.56},{"p":"f","s":"AHS","c":17,"m":1.07,"e":0.55},{"p":"f","s":"AHS","c":18,"m":0.94,"e":0.52},{"p":"f","s":"AHS","c":19,"m":0.86,"e":0.5},{"p":"f","s":"AHS","c":20,"m":0.78,"e":0.48},
{"p":"f","s":"AHS","c":21,"m":0.68,"e":0.48},{"p":"f","s":"AHS","c":22,"m":0.6,"e":0.45},{"p":"f","s":"AHS","c":23,"m":0.55,"e":0.43},{"p":"f","s":"AHS","c":24,"m":0.47,"e":0.4},{"p":"f","s":"AHS","c":25,"m":0.42,"e":0.4},{"p":"f","s":"AHS","c":26,"m":0.37,"e":0.38},{"p":"f","s":"AHS","c":27,"m":0.3,"e":0.37},{"p":"f","s":"AHS","c":28,"m":0.27,"e":0.36},{"p":"f","s":"AHS","c":29,"m":0.23,"e":0.35},{"p":"f","s":"AHS","c":30,"m":0.2,"e":0.35},
{"p":"f","s":"AHS","c":31,"m":0.17,"e":0.33},{"p":"f","s":"AHS","c":32,"m":0.15,"e":0.33},{"p":"f","s":"AHS","c":33,"m":0.13,"e":0.32},{"p":"f","s":"AHS","c":34,"m":0.11,"e":0.32},{"p":"f","s":"AHS","c":35,"m":0.1,"e":0.31},{"p":"f","s":"AHS","c":36,"m":0.08,"e":0.31},{"p":"f","s":"AHS","c":37,"m":0.08,"e":0.3},{"p":"f","s":"AHS","c":38,"m":0.07,"e":0.3},{"p":"f","s":"AHS","c":39,"m":0.06,"e":0.3},{"p":"f","s":"AHS","c":40,"m":0.05,"e":0.3},
{"p":"f","s":"AHS","c":41,"m":0.05,"e":0.3},{"p":"f","s":"AHS","c":42,"m":0.05,"e":0.3},{"p":"f","s":"AHS","c":43,"m":0.04,"e":0.3},{"p":"f","s":"AHS","c":44,"m":0.04,"e":0.3},{"p":"f","s":"AHS","c":45,"m":0.04,"e":0.3},{"p":"f","s":"AHS","c":46,"m":0.04,"e":0.3},{"p":"f","s":"AHS","c":47,"m":0.04,"e":0.3},{"p":"f","s":"AHS","c":48,"m":0.04,"e":0.3},{"p":"f","s":"AHS","c":49,"m":0.04,"e":0.3},{"p":"f","s":"AHS","c":50,"m":0.04,"e":0.3},
{"p":"f","s":"AWHS","c":1,"m":11.03,"e":0.84},{"p":"f","s":"AWHS","c":2,"m":5.9,"e":1.08},{"p":"f","s":"AWHS","c":3,"m":5.32,"e":1.0},{"p":"f","s":"AWHS","c":4,"m":4.38,"e":0.87},{"p":"f","s":"AWHS","c":5,"m":3.52,"e":0.85},{"p":"f","s":"AWHS","c":6,"m":2.88,"e":0.68},{"p":"f","s":"AWHS","c":7,"m":2.32,"e":0.85},{"p":"f","s":"AWHS","c":8,"m":1.8,"e":0.65},{"p":"f","s":"AWHS","c":9,"m":1.43,"e":0.55},{"p":"f","s":"AWHS","c":10,"m":1.16,"e":0.5},
{"p":"f","s":"AWHS","c":11,"m":0.87,"e":0.45},{"p":"f","s":"AWHS","c":12,"m":0.73,"e":0.4},{"p":"f","s":"AWHS","c":13,"m":0.59,"e":0.4},{"p":"f","s":"AWHS","c":14,"m":0.46,"e":0.37},{"p":"f","s":"AWHS","c":15,"m":0.39,"e":0.35},{"p":"f","s":"AWHS","c":16,"m":0.32,"e":0.33},{"p":"f","s":"AWHS","c":17,"m":0.27,"e":0.3},{"p":"f","s":"AWHS","c":18,"m":0.25,"e":0.28},{"p":"f","s":"AWHS","c":19,"m":0.21,"e":0.27},{"p":"f","s":"AWHS","c":20,"m":0.19,"e":0.25},
{"p":"f","s":"AWHS","c":21,"m":0.16,"e":0.23},{"p":"f","s":"AWHS","c":22,"m":0.13,"e":0.22},{"p":"f","s":"AWHS","c":23,"m":0.11,"e":0.2},{"p":"f","s":"AWHS","c":24,"m":0.1,"e":0.2},{"p":"f","s":"AWHS","c":25,"m":0.09,"e":0.18},{"p":"f","s":"AWHS","c":26,"m":0.08,"e":0.18},{"p":"f","s":"AWHS","c":27,"m":0.07,"e":0.17},{"p":"f","s":"AWHS","c":28,"m":0.06,"e":0.17},{"p":"f","s":"AWHS","c":29,"m":0.06,"e":0.16},{"p":"f","s":"AWHS","c":30,"m":0.05,"e":0.16},
{"p":"f","s":"AWHS","c":31,"m":0.05,"e":0.16},{"p":"f","s":"AWHS","c":32,"m":0.05,"e":0.15},{"p":"f","s":"AWHS","c":33,"m":0.04,"e":0.15},{"p":"f","s":"AWHS","c":34,"m":0.04,"e":0.15},{"p":"f","s":"AWHS","c":35,"m":0.04,"e":0.15},{"p":"f","s":"AWHS","c":36,"m":0.04,"e":0.15},{"p":"f","s":"AWHS","c":37,"m":0.03,"e":0.15},{"p":"f","s":"AWHS","c":38,"m":0.03,"e":0.15},{"p":"f","s":"AWHS","c":39,"m":0.03,"e":0.15},{"p":"f","s":"AWHS","c":40,"m":0.03,"e":0.15},
{"p":"f","s":"AWHS","c":41,"m":0.03,"e":0.15},{"p":"f","s":"AWHS","c":42,"m":0.03,"e":0.15},{"p":"f","s":"AWHS","c":43,"m":0.03,"e":0.15},{"p":"f","s":"AWHS","c":44,"m":0.03,"e":0.15},{"p":"f","s":"AWHS","c":45,"m":0.03,"e":0.15},{"p":"f","s":"AWHS","c":46,"m":0.03,"e":0.15},{"p":"f","s":"AWHS","c":47,"m":0.03,"e":0.15},{"p":"f","s":"AWHS","c":48,"m":0.03,"e":0.15},{"p":"f","s":"AWHS","c":49,"m":0.03,"e":0.15},{"p":"f","s":"AWHS","c":50,"m":0.03,"e":0.15},
{"p":"g","s":"AHS","c":1,"m":1.14,"e":0.6},{"p":"g","s":"AHS","c":2,"m":1.46,"e":0.8},{"p":"g","s":"AHS","c":3,"m":1.53,"e":0.8},{"p":"g","s":"AHS","c":4,"m":1.55,"e":0.8},{"p":"g","s":"AHS","c":5,"m":1.53,"e":0.8},{"p":"g","s":"AHS","c":6,"m":1.51,"e":0.78},{"p":"g","s":"AHS","c":7,"m":1.51,"e":0.78},{"p":"g","s":"AHS","c":8,"m":1.51,"e":0.78},{"p":"g","s":"AHS","c":9,"m":1.5,"e":0.75},{"p":"g","s":"AHS","c":10,"m":1.4,"e":0.75},
{"p":"g","s":"AHS","c":11,"m":1.4,"e":0.72},{"p":"g","s":"AHS","c":12,"m":1.32,"e":0.7},{"p":"g","s":"AHS","c":13,"m":1.26,"e":0.68},{"p":"g","s":"AHS","c":14,"m":1.21,"e":0.66},{"p":"g","s":"AHS","c":15,"m":1.16,"e":0.65},{"p":"g","s":"AHS","c":16,"m":1.07,"e":0.63},{"p":"g","s":"AHS","c":17,"m":1.0,"e":0.62},{"p":"g","s":"AHS","c":18,"m":0.98,"e":0.6},{"p":"g","s":"AHS","c":19,"m":0.93,"e":0.6},{"p":"g","s":"AHS","c":20,"m":0.86,"e":0.58},
{"p":"g","s":"AHS","c":21,"m":0.8,"e":0.58},{"p":"g","s":"AHS","c":22,"m":0.77,"e":0.57},{"p":"g","s":"AHS","c":23,"m":0.72,"e":0.56},{"p":"g","s":"AHS","c":24,"m":0.68,"e":0.55},{"p":"g","s":"AHS","c":25,"m":0.6,"e":0.55},{"p":"g","s":"AHS","c":26,"m":0.58,"e":0.54},{"p":"g","s":"AHS","c":27,"m":0.54,"e":0.53},{"p":"g","s":"AHS","c":28,"m":0.52,"e":0.52},{"p":"g","s":"AHS","c":29,"m":0.5,"e":0.52},{"p":"g","s":"AHS","c":30,"m":0.45,"e":0.5},
{"p":"g","s":"AHS","c":31,"m":0.45,"e":0.5},{"p":"g","s":"AHS","c":32,"m":0.4,"e":0.5},{"p":"g","s":"AHS","c":33,"m":0.37,"e":0.49},{"p":"g","s":"AHS","c":34,"m":0.37,"e":0.48},{"p":"g","s":"AHS","c":35,"m":0.33,"e":0.47},{"p":"g","s":"AHS","c":36,"m":0.3,"e":0.47},{"p":"g","s":"AHS","c":37,"m":0.3,"e":0.46},{"p":"g","s":"AHS","c":38,"m":0.28,"e":0.45},{"p":"g","s":"AHS","c":39,"m":0.26,"e":0.45},{"p":"g","s":"AHS","c":40,"m":0.24,"e":0.44},
{"p":"g","s":"AHS","c":41,"m":0.23,"e":0.43},{"p":"g","s":"AHS","c":42,"m":0.2,"e":0.42},{"p":"g","s":"AHS","c":43,"m":0.2,"e":0.42},{"p":"g","s":"AHS","c":44,"m":0.2,"e":0.41},{"p":"g","s":"AHS","c":45,"m":0.18,"e":0.41},{"p":"g","s":"AHS","c":46,"m":0.17,"e":0.4},{"p":"g","s":"AHS","c":47,"m":0.17,"e":0.4},{"p":"g","s":"AHS","c":48,"m":0.14,"e":0.4},{"p":"g","s":"AHS","c":49,"m":0.15,"e":0.39},{"p":"g","s":"AHS","c":50,"m":0.15,"e":0.39},
{"p":"g","s":"AWHS","c":1,"m":2.44,"e":0.6},{"p":"g","s":"AWHS","c":2,"m":2.07,"e":0.86},{"p":"g","s":"AWHS","c":3,"m":2.14,"e":0.8},{"p":"g","s":"AWHS","c":4,"m":2.23,"e":0.8},{"p":"g","s":"AWHS","c":5,"m":2.18,"e":0.82},{"p":"g","s":"AWHS","c":6,"m":2.12,"e":0.75},{"p":"g","s":"AWHS","c":7,"m":2.07,"e":0.75},{"p":"g","s":"AWHS","c":8,"m":1.96,"e":0.7},{"p":"g","s":"AWHS","c":9,"m":1.9,"e":0.74},{"p":"g","s":"AWHS","c":10,"m":1.82,"e":0.7},
{"p":"g","s":"AWHS","c":11,"m":1.71,"e":0.65},{"p":"g","s":"AWHS","c":12,"m":1.53,"e":0.62},{"p":"g","s":"AWHS","c":13,"m":1.42,"e":0.62},{"p":"g","s":"AWHS","c":14,"m":1.35,"e":0.66},{"p":"g","s":"AWHS","c":15,"m":1.19,"e":0.65},{"p":"g","s":"AWHS","c":16,"m":1.07,"e":0.63},{"p":"g","s":"AWHS","c":17,"m":0.97,"e":0.62},{"p":"g","s":"AWHS","c":18,"m":0.93,"e":0.6},{"p":"g","s":"AWHS","c":19,"m":0.83,"e":0.6},{"p":"g","s":"AWHS","c":20,"m":0.75,"e":0.58},
{"p":"g","s":"AWHS","c":21,"m":0.7,"e":0.58},{"p":"g","s":"AWHS","c":22,"m":0.63,"e":0.57},{"p":"g","s":"AWHS","c":23,"m":0.6,"e":0.56},{"p":"g","s":"AWHS","c":24,"m":0.55,"e":0.55},{"p":"g","s":"AWHS","c":25,"m":0.5,"e":0.55},{"p":"g","s":"AWHS","c":26,"m":0.47,"e":0.54},{"p":"g","s":"AWHS","c":27,"m":0.43,"e":0.53},{"p":"g","s":"AWHS","c":28,"m":0.4,"e":0.52},{"p":"g","s":"AWHS","c":29,"m":0.38,"e":0.52},{"p":"g","s":"AWHS","c":30,"m":0.35,"e":0.5},
{"p":"g","s":"AWHS","c":31,"m":0.33,"e":0.5},{"p":"g","s":"AWHS","c":32,"m":0.31,"e":0.5},{"p":"g","s":"AWHS","c":33,"m":0.3,"e":0.49},{"p":"g","s":"AWHS","c":34,"m":0.28,"e":0.48},{"p":"g","s":"AWHS","c":35,"m":0.26,"e":0.47},{"p":"g","s":"AWHS","c":36,"m":0.25,"e":0.47},{"p":"g","s":"AWHS","c":37,"m":0.24,"e":0.46},{"p":"g","s":"AWHS","c":38,"m":0.22,"e":0.45},{"p":"g","s":"AWHS","c":39,"m":0.21,"e":0.45},{"p":"g","s":"AWHS","c":40,"m":0.2,"e":0.44},
{"p":"g","s":"AWHS","c":41,"m":0.19,"e":0.43},{"p":"g","s":"AWHS","c":42,"m":0.18,"e":0.42},{"p":"g","s":"AWHS","c":43,"m":0.17,"e":0.42},{"p":"g","s":"AWHS","c":44,"m":0.16,"e":0.41},{"p":"g","s":"AWHS","c":45,"m":0.16,"e":0.41},{"p":"g","s":"AWHS","c":46,"m":0.15,"e":0.4},{"p":"g","s":"AWHS","c":47,"m":0.15,"e":0.4},{"p":"g","s":"AWHS","c":48,"m":0.14,"e":0.4},{"p":"g","s":"AWHS","c":49,"m":0.14,"e":0.39},{"p":"g","s":"AWHS","c":50,"m":0.13,"e":0.39},
{"p":"h","s":"AHS","c":1,"m":2.58,"e":0.55},{"p":"h","s":"AHS","c":2,"m":2.31,"e":0.75},{"p":"h","s":"AHS","c":3,"m":2.25,"e":0.78},{"p":"h","s":"AHS","c":4,"m":2.25,"e":0.72},{"p":"h","s":"AHS","c":5,"m":2.25,"e":0.7},{"p":"h","s":"AHS","c":6,"m":2.2,"e":0.7},{"p":"h","s":"AHS","c":7,"m":2.17,"e":0.67},{"p":"h","s":"AHS","c":8,"m":2.12,"e":0.67},{"p":"h","s":"AHS","c":9,"m":2.0,"e":0.62},{"p":"h","s":"AHS","c":10,"m":1.95,"e":0.62},
{"p":"h","s":"AHS","c":11,"m":1.82,"e":0.6},{"p":"h","s":"AHS","c":12,"m":1.72,"e":0.57},{"p":"h","s":"AHS","c":13,"m":1.58,"e":0.5},{"p":"h","s":"AHS","c":14,"m":1.39,"e":0.55},{"p":"h","s":"AHS","c":15,"m":1.29,"e":0.5},{"p":"h","s":"AHS","c":16,"m":1.18,"e":0.5},{"p":"h","s":"AHS","c":17,"m":1.04,"e":0.5},{"p":"h","s":"AHS","c":18,"m":0.91,"e":0.5},{"p":"h","s":"AHS","c":19,"m":0.86,"e":0.48},{"p":"h","s":"AHS","c":20,"m":0.75,"e":0.46},
{"p":"h","s":"AHS","c":21,"m":0.65,"e":0.45},{"p":"h","s":"AHS","c":22,"m":0.6,"e":0.45},{"p":"h","s":"AHS","c":23,"m":0.55,"e":0.45},{"p":"h","s":"AHS","c":24,"m":0.5,"e":0.43},{"p":"h","s":"AHS","c":25,"m":0.43,"e":0.42},{"p":"h","s":"AHS","c":26,"m":0.38,"e":0.42},{"p":"h","s":"AHS","c":27,"m":0.35,"e":0.42},{"p":"h","s":"AHS","c":28,"m":0.3,"e":0.4},{"p":"h","s":"AHS","c":29,"m":0.3,"e":0.4},{"p":"h","s":"AHS","c":30,"m":0.25,"e":0.4},
{"p":"h","s":"AHS","c":31,"m":0.23,"e":0.4},{"p":"h","s":"AHS","c":32,"m":0.2,"e":0.38},{"p":"h","s":"AHS","c":33,"m":0.18,"e":0.38},{"p":"h","s":"AHS","c":34,"m":0.17,"e":0.38},{"p":"h","s":"AHS","c":35,"m":0.13,"e":0.37},{"p":"h","s":"AHS","c":36,"m":0.13,"e":0.37},{"p":"h","s":"AHS","c":37,"m":0.12,"e":0.37},{"p":"h","s":"AHS","c":38,"m":0.1,"e":0.37},{"p":"h","s":"AHS","c":39,"m":0.1,"e":0.37},{"p":"h","s":"AHS","c":40,"m":0.08,"e":0.37},
{"p":"h","s":"AHS","c":41,"m":0.08,"e":0.36},{"p":"h","s":"AHS","c":42,"m":0.06,"e":0.36},{"p":"h","s":"AHS","c":43,"m":0.06,"e":0.36},{"p":"h","s":"AHS","c":44,"m":0.07,"e":0.36},{"p":"h","s":"AHS","c":45,"m":0.05,"e":0.36},{"p":"h","s":"AHS","c":46,"m":0.05,"e":0.35},{"p":"h","s":"AHS","c":47,"m":0.05,"e":0.35},{"p":"h","s":"AHS","c":48,"m":0.05,"e":0.35},{"p":"h","s":"AHS","c":49,"m":0.05,"e":0.35},{"p":"h","s":"AHS","c":50,"m":0.05,"e":0.35},
{"p":"h","s":"AWHS","c":1,"m":6.35,"e":0.57},{"p":"h","s":"AWHS","c":2,"m":3.88,"e":0.75},{"p":"h","s":"AWHS","c":3,"m":3.86,"e":0.75},{"p":"h","s":"AWHS","c":4,"m":3.7,"e":0.7},{"p":"h","s":"AWHS","c":5,"m":3.49,"e":0.63},{"p":"h","s":"AWHS","c":6,"m":3.09,"e":0.65},{"p":"h","s":"AWHS","c":7,"m":2.77,"e":0.6},{"p":"h","s":"AWHS","c":8,"m":2.36,"e":0.6},{"p":"h","s":"AWHS","c":9,"m":1.98,"e":0.6},{"p":"h","s":"AWHS","c":10,"m":1.75,"e":0.5},
{"p":"h","s":"AWHS","c":11,"m":1.45,"e":0.5},{"p":"h","s":"AWHS","c":12,"m":1.21,"e":0.5},{"p":"h","s":"AWHS","c":13,"m":1.04,"e":0.48},{"p":"h","s":"AWHS","c":14,"m":0.8,"e":0.45},{"p":"h","s":"AWHS","c":15,"m":0.72,"e":0.42},{"p":"h","s":"AWHS","c":16,"m":0.61,"e":0.42},{"p":"h","s":"AWHS","c":17,"m":0.54,"e":0.4},{"p":"h","s":"AWHS","c":18,"m":0.46,"e":0.4},{"p":"h","s":"AWHS","c":19,"m":0.41,"e":0.38},{"p":"h","s":"AWHS","c":20,"m":0.35,"e":0.37},
{"p":"h","s":"AWHS","c":21,"m":0.32,"e":0.36},{"p":"h","s":"AWHS","c":22,"m":0.28,"e":0.35},{"p":"h","s":"AWHS","c":23,"m":0.25,"e":0.35},{"p":"h","s":"AWHS","c":24,"m":0.23,"e":0.34},{"p":"h","s":"AWHS","c":25,"m":0.2,"e":0.33},{"p":"h","s":"AWHS","c":26,"m":0.18,"e":0.33},{"p":"h","s":"AWHS","c":27,"m":0.17,"e":0.33},{"p":"h","s":"AWHS","c":28,"m":0.15,"e":0.32},{"p":"h","s":"AWHS","c":29,"m":0.14,"e":0.32},{"p":"h","s":"AWHS","c":30,"m":0.13,"e":0.32},
{"p":"h","s":"AWHS","c":31,"m":0.12,"e":0.32},{"p":"h","s":"AWHS","c":32,"m":0.11,"e":0.31},{"p":"h","s":"AWHS","c":33,"m":0.1,"e":0.31},{"p":"h","s":"AWHS","c":34,"m":0.1,"e":0.31},{"p":"h","s":"AWHS","c":35,"m":0.09,"e":0.3},{"p":"h","s":"AWHS","c":36,"m":0.09,"e":0.3},{"p":"h","s":"AWHS","c":37,"m":0.08,"e":0.3},{"p":"h","s":"AWHS","c":38,"m":0.08,"e":0.3},{"p":"h","s":"AWHS","c":39,"m":0.07,"e":0.3},{"p":"h","s":"AWHS","c":40,"m":0.07,"e":0.3},
{"p":"h","s":"AWHS","c":41,"m":0.07,"e":0.3},{"p":"h","s":"AWHS","c":42,"m":0.06,"e":0.3},{"p":"h","s":"AWHS","c":43,"m":0.06,"e":0.3},{"p":"h","s":"AWHS","c":44,"m":0.06,"e":0.3},{"p":"h","s":"AWHS","c":45,"m":0.05,"e":0.3},{"p":"h","s":"AWHS","c":46,"m":0.05,"e":0.3},{"p":"h","s":"AWHS","c":47,"m":0.05,"e":0.3},{"p":"h","s":"AWHS","c":48,"m":0.05,"e":0.3},{"p":"h","s":"AWHS","c":49,"m":0.05,"e":0.3},{"p":"h","s":"AWHS","c":50,"m":0.05,"e":0.3},
{"p":"i","s":"AHS","c":1,"m":2.94,"e":0.56},{"p":"i","s":"AHS","c":2,"m":2.42,"e":0.7},{"p":"i","s":"AHS","c":3,"m":2.43,"e":0.7},{"p":"i","s":"AHS","c":4,"m":2.5,"e":0.68},{"p":"i","s":"AHS","c":5,"m":2.48,"e":0.67},{"p":"i","s":"AHS","c":6,"m":2.45,"e":0.68},{"p":"i","s":"AHS","c":7,"m":2.38,"e":0.65},{"p":"i","s":"AHS","c":8,"m":2.34,"e":0.6},{"p":"i","s":"AHS","c":9,"m":2.29,"e":0.6},{"p":"i","s":"AHS","c":10,"m":2.13,"e":0.55},
{"p":"i","s":"AHS","c":11,"m":2.02,"e":0.56},{"p":"i","s":"AHS","c":12,"m":1.89,"e":0.52},{"p":"i","s":"AHS","c":13,"m":1.75,"e":0.5},{"p":"i","s":"AHS","c":14,"m":1.65,"e":0.47},{"p":"i","s":"AHS","c":15,"m":1.46,"e":0.44},{"p":"i","s":"AHS","c":16,"m":1.32,"e":0.42},{"p":"i","s":"AHS","c":17,"m":1.24,"e":0.4},{"p":"i","s":"AHS","c":18,"m":1.08,"e":0.4},{"p":"i","s":"AHS","c":19,"m":0.95,"e":0.38},{"p":"i","s":"AHS","c":20,"m":0.78,"e":0.35},
{"p":"i","s":"AHS","c":21,"m":0.72,"e":0.34},{"p":"i","s":"AHS","c":22,"m":0.61,"e":0.32},{"p":"i","s":"AHS","c":23,"m":0.55,"e":0.3},{"p":"i","s":"AHS","c":24,"m":0.45,"e":0.3},{"p":"i","s":"AHS","c":25,"m":0.38,"e":0.28},{"p":"i","s":"AHS","c":26,"m":0.33,"e":0.28},{"p":"i","s":"AHS","c":27,"m":0.27,"e":0.27},{"p":"i","s":"AHS","c":28,"m":0.22,"e":0.26},{"p":"i","s":"AHS","c":29,"m":0.2,"e":0.25},{"p":"i","s":"AHS","c":30,"m":0.16,"e":0.25},
{"p":"i","s":"AHS","c":31,"m":0.14,"e":0.24},{"p":"i","s":"AHS","c":32,"m":0.11,"e":0.24},{"p":"i","s":"AHS","c":33,"m":0.1,"e":0.23},{"p":"i","s":"AHS","c":34,"m":0.08,"e":0.23},{"p":"i","s":"AHS","c":35,"m":0.07,"e":0.23},{"p":"i","s":"AHS","c":36,"m":0.06,"e":0.22},{"p":"i","s":"AHS","c":37,"m":0.06,"e":0.22},{"p":"i","s":"AHS","c":38,"m":0.05,"e":0.22},{"p":"i","s":"AHS","c":39,"m":0.05,"e":0.22},{"p":"i","s":"AHS","c":40,"m":0.04,"e":0.22},
{"p":"i","s":"AHS","c":41,"m":0.04,"e":0.22},{"p":"i","s":"AHS","c":42,"m":0.04,"e":0.22},{"p":"i","s":"AHS","c":43,"m":0.04,"e":0.22},{"p":"i","s":"AHS","c":44,"m":0.03,"e":0.22},{"p":"i","s":"AHS","c":45,"m":0.03,"e":0.22},{"p":"i","s":"AHS","c":46,"m":0.03,"e":0.22},{"p":"i","s":"AHS","c":47,"m":0.03,"e":0.22},{"p":"i","s":"AHS","c":48,"m":0.03,"e":0.22},{"p":"i","s":"AHS","c":49,"m":0.03,"e":0.22},{"p":"i","s":"AHS","c":50,"m":0.03,"e":0.22},
{"p":"i","s":"AWHS","c":1,"m":11.2,"e":0.6},{"p":"i","s":"AWHS","c":2,"m":5.89,"e":0.72},{"p":"i","s":"AWHS","c":3,"m":5.46,"e":0.75},{"p":"i","s":"AWHS","c":4,"m":4.71,"e":0.62},{"p":"i","s":"AWHS","c":5,"m":3.87,"e":0.55},{"p":"i","s":"AWHS","c":6,"m":3.1,"e":0.5},{"p":"i","s":"AWHS","c":7,"m":2.45,"e":0.55},{"p":"i","s":"AWHS","c":8,"m":1.97,"e":0.5},{"p":"i","s":"AWHS","c":9,"m":1.46,"e":0.45},{"p":"i","s":"AWHS","c":10,"m":1.13,"e":0.4},
{"p":"i","s":"AWHS","c":11,"m":0.84,"e":0.35},{"p":"i","s":"AWHS","c":12,"m":0.65,"e":0.3},{"p":"i","s":"AWHS","c":13,"m":0.52,"e":0.26},{"p":"i","s":"AWHS","c":14,"m":0.43,"e":0.25},{"p":"i","s":"AWHS","c":15,"m":0.33,"e":0.22},{"p":"i","s":"AWHS","c":16,"m":0.25,"e":0.2},{"p":"i","s":"AWHS","c":17,"m":0.22,"e":0.2},{"p":"i","s":"AWHS","c":18,"m":0.17,"e":0.2},{"p":"i","s":"AWHS","c":19,"m":0.14,"e":0.18},{"p":"i","s":"AWHS","c":20,"m":0.11,"e":0.18},
{"p":"i","s":"AWHS","c":21,"m":0.1,"e":0.17},{"p":"i","s":"AWHS","c":22,"m":0.08,"e":0.16},{"p":"i","s":"AWHS","c":23,"m":0.07,"e":0.15},{"p":"i","s":"AWHS","c":24,"m":0.06,"e":0.15},{"p":"i","s":"AWHS","c":25,"m":0.05,"e":0.15},{"p":"i","s":"AWHS","c":26,"m":0.05,"e":0.15},{"p":"i","s":"AWHS","c":27,"m":0.04,"e":0.14},{"p":"i","s":"AWHS","c":28,"m":0.04,"e":0.14},{"p":"i","s":"AWHS","c":29,"m":0.04,"e":0.14},{"p":"i","s":"AWHS","c":30,"m":0.03,"e":0.14},
{"p":"i","s":"AWHS","c":31,"m":0.03,"e":0.14},{"p":"i","s":"AWHS","c":32,"m":0.03,"e":0.14},{"p":"i","s":"AWHS","c":33,"m":0.03,"e":0.14},{"p":"i","s":"AWHS","c":34,"m":0.03,"e":0.14},{"p":"i","s":"AWHS","c":35,"m":0.03,"e":0.14},{"p":"i","s":"AWHS","c":36,"m":0.02,"e":0.14},{"p":"i","s":"AWHS","c":37,"m":0.02,"e":0.14},{"p":"i","s":"AWHS","c":38,"m":0.02,"e":0.14},{"p":"i","s":"AWHS","c":39,"m":0.02,"e":0.14},{"p":"i","s":"AWHS","c":40,"m":0.02,"e":0.14},
{"p":"i","s":"AWHS","c":41,"m":0.02,"e":0.14},{"p":"i","s":"AWHS","c":42,"m":0.02,"e":0.14},{"p":"i","s":"AWHS","c":43,"m":0.02,"e":0.14},{"p":"i","s":"AWHS","c":44,"m":0.02,"e":0.14},{"p":"i","s":"AWHS","c":45,"m":0.02,"e":0.14},{"p":"i","s":"AWHS","c":46,"m":0.02,"e":0.14},{"p":"i","s":"AWHS","c":47,"m":0.02,"e":0.14},{"p":"i","s":"AWHS","c":48,"m":0.02,"e":0.14},{"p":"i","s":"AWHS","c":49,"m":0.02,"e":0.14},{"p":"i","s":"AWHS","c":50,"m":0.02,"e":0.14}
]},
"transform":[{"lookup":"p","from":{"data":{"values":[
{"p":"a","h":"h²=0.1","n":"10"},{"p":"b","h":"h²=0.5","n":"10"},{"p":"c","h":"h²=0.9","n":"10"},
{"p":"d","h":"h²=0.1","n":"50"},{"p":"e","h":"h²=0.5","n":"50"},{"p":"f","h":"h²=0.9","n":"50"},
{"p":"g","h":"h²=0.1","n":"100"},{"p":"h","h":"h²=0.5","n":"100"},{"p":"i","h":"h²=0.9","n":"100"}]},"key":"p","fields":["h","n"]}}],
"facet":{
 "row":{"field":"n","type":"nominal","sort":["10","50","100"],"title":"ΔG %","header":{"labelOrient":"right","labelAngle":0,"labelAlign":"center","labelBaseline":"middle","labelFontSize":27,"labelFontWeight":"bold","labelColor":"black","labelPadding":26,"titleOrient":"left","titleFontSize":38,"titleFontWeight":"bold","titleColor":"black","titlePadding":0}},
 "column":{"field":"h","type":"nominal","sort":["h²=0.1","h²=0.5","h²=0.9"],"title":"Cycle","header":{"labelOrient":"top","labelFontSize":28,"labelFontWeight":"bold","labelColor":"black","labelPadding":14,"titleOrient":"bottom","titleFontSize":31,"titleFontWeight":"bold","titleColor":"black","titlePadding":22}}
},
"spacing":{"row":50,"column":56},
"resolve":{"axis":{"x":"independent","y":"independent"}},
"spec":{
 "width":533,"height":363,
 "layer":[
  {"transform":[{"filter":"isValid(datum.c)"}],
   "mark":{"type":"errorbar","ticks":true,"size":5,"thickness":1,"color":"#9a9a9a","clip":true},
   "encoding":{
    "x":{"field":"c","type":"quantitative","scale":{"domain":[0,51],"nice":false},"axis":{"title":null,"values":[0,1,2,3,4,5,6,7,8,9,10,11,12,13,14,15,16,17,18,19,20,21,22,23,24,25,26,27,28,29,30,31,32,33,34,35,36,37,38,39,40,41,42,43,44,45,46,47,48,49,50],"labelExpr":"datum.value % 2 === 0 ? datum.label : ''"}},
    "y":{"field":"m","type":"quantitative","scale":{"domain":[-0.2,11.5],"nice":false,"zero":false},"axis":{"title":null,"values":[0,0.5,1,1.5,2,2.5,3,3.5,4,4.5,5,5.5,6,6.5,7,7.5,8,8.5,9,9.5,10,10.5,11],"labelExpr":"datum.value % 1 === 0 ? format(datum.value, 'd') : ''","tickSize":{"condition":{"test":"datum.value % 1 !== 0","value":3},"value":6},"gridOpacity":{"condition":{"test":"datum.value % 1 !== 0","value":0},"value":1}}},
    "yError":{"field":"e"},
    "detail":{"field":"s"}}},
  {"transform":[{"filter":"isValid(datum.v)"}],
   "mark":{"type":"rule","strokeDash":[4,3],"color":"black","strokeWidth":1.2},
   "encoding":{"x":{"field":"v","type":"quantitative","scale":{"domain":[0,51],"nice":false},"axis":{"title":null,"values":[0,1,2,3,4,5,6,7,8,9,10,11,12,13,14,15,16,17,18,19,20,21,22,23,24,25,26,27,28,29,30,31,32,33,34,35,36,37,38,39,40,41,42,43,44,45,46,47,48,49,50],"labelExpr":"datum.value % 2 === 0 ? datum.label : ''"}}}},
  {"transform":[{"filter":"isValid(datum.c)"}],
   "mark":{"type":"line","color":"black","strokeWidth":1.5,"clip":true},
   "encoding":{
    "x":{"field":"c","type":"quantitative","scale":{"domain":[0,51],"nice":false},"axis":{"title":null,"values":[0,1,2,3,4,5,6,7,8,9,10,11,12,13,14,15,16,17,18,19,20,21,22,23,24,25,26,27,28,29,30,31,32,33,34,35,36,37,38,39,40,41,42,43,44,45,46,47,48,49,50],"labelExpr":"datum.value % 2 === 0 ? datum.label : ''"}},
    "y":{"field":"m","type":"quantitative","scale":{"domain":[-0.2,11.5],"nice":false,"zero":false},"axis":{"title":null,"values":[0,0.5,1,1.5,2,2.5,3,3.5,4,4.5,5,5.5,6,6.5,7,7.5,8,8.5,9,9.5,10,10.5,11],"labelExpr":"datum.value % 1 === 0 ? format(datum.value, 'd') : ''","tickSize":{"condition":{"test":"datum.value % 1 !== 0","value":3},"value":6},"gridOpacity":{"condition":{"test":"datum.value % 1 !== 0","value":0},"value":1}}},
    "detail":{"field":"s"}}},
  {"transform":[{"filter":"isValid(datum.c)"}],
   "mark":{"type":"point","filled":true,"color":"black","size":125,"opacity":1,"clip":true},
   "encoding":{
    "x":{"field":"c","type":"quantitative","scale":{"domain":[0,51],"nice":false},"axis":{"title":null,"values":[0,1,2,3,4,5,6,7,8,9,10,11,12,13,14,15,16,17,18,19,20,21,22,23,24,25,26,27,28,29,30,31,32,33,34,35,36,37,38,39,40,41,42,43,44,45,46,47,48,49,50],"labelExpr":"datum.value % 2 === 0 ? datum.label : ''"}},
    "y":{"field":"m","type":"quantitative","scale":{"domain":[-0.2,11.5],"nice":false,"zero":false},"axis":{"title":null,"values":[0,0.5,1,1.5,2,2.5,3,3.5,4,4.5,5,5.5,6,6.5,7,7.5,8,8.5,9,9.5,10,10.5,11],"labelExpr":"datum.value % 1 === 0 ? format(datum.value, 'd') : ''","tickSize":{"condition":{"test":"datum.value % 1 !== 0","value":3},"value":6},"gridOpacity":{"condition":{"test":"datum.value % 1 !== 0","value":0},"value":1}}},
    "shape":{"field":"s","type":"nominal","scale":{"domain":["AHS","AWHS"],"range":["circle","triangle-down"]},
      "legend":{"title":null,"orient":"none","legendX":447,"legendY":74,"fillColor":"white","padding":3,"labelFontSize":17,"labelColor":"black","symbolSize":80,"symbolFillColor":"black","symbolStrokeColor":"black","rowPadding":3,"labelOffset":5}}}},
  {"transform":[{"filter":"isValid(datum.v) && datum.s === 'AHS'"}],
   "mark":{"type":"text","fontSize":20,"fontWeight":"bold","color":"black","align":"center","baseline":"middle"},
   "encoding":{
    "x":{"field":"v","type":"quantitative","scale":{"domain":[0,51],"nice":false},"axis":{"title":null,"values":[0,1,2,3,4,5,6,7,8,9,10,11,12,13,14,15,16,17,18,19,20,21,22,23,24,25,26,27,28,29,30,31,32,33,34,35,36,37,38,39,40,41,42,43,44,45,46,47,48,49,50],"labelExpr":"datum.value % 2 === 0 ? datum.label : ''"}},
    "y":{"datum":9.52,"type":"quantitative","scale":{"domain":[-0.2,11.5],"nice":false,"zero":false},"axis":{"title":null,"values":[0,0.5,1,1.5,2,2.5,3,3.5,4,4.5,5,5.5,6,6.5,7,7.5,8,8.5,9,9.5,10,10.5,11],"labelExpr":"datum.value % 1 === 0 ? format(datum.value, 'd') : ''","tickSize":{"condition":{"test":"datum.value % 1 !== 0","value":3},"value":6},"gridOpacity":{"condition":{"test":"datum.value % 1 !== 0","value":0},"value":1}}},
    "text":{"field":"s"}}},
  {"transform":[{"filter":"isValid(datum.v) && datum.s === 'AWHS'"}],
   "mark":{"type":"text","fontSize":20,"fontWeight":"bold","color":"black","align":"center","baseline":"middle"},
   "encoding":{
    "x":{"field":"v","type":"quantitative","scale":{"domain":[0,51],"nice":false},"axis":{"title":null,"values":[0,1,2,3,4,5,6,7,8,9,10,11,12,13,14,15,16,17,18,19,20,21,22,23,24,25,26,27,28,29,30,31,32,33,34,35,36,37,38,39,40,41,42,43,44,45,46,47,48,49,50],"labelExpr":"datum.value % 2 === 0 ? datum.label : ''"}},
    "y":{"datum":7.93,"type":"quantitative","scale":{"domain":[-0.2,11.5],"nice":false,"zero":false},"axis":{"title":null,"values":[0,0.5,1,1.5,2,2.5,3,3.5,4,4.5,5,5.5,6,6.5,7,7.5,8,8.5,9,9.5,10,10.5,11],"labelExpr":"datum.value % 1 === 0 ? format(datum.value, 'd') : ''","tickSize":{"condition":{"test":"datum.value % 1 !== 0","value":3},"value":6},"gridOpacity":{"condition":{"test":"datum.value % 1 !== 0","value":0},"value":1}}},
    "text":{"field":"s"}}},
  {"transform":[{"filter":"isValid(datum.v) && datum.s === 'AHS'"}],
   "mark":{"type":"point","shape":"M-0.5,-1L0.5,-1L0.5,1L-0.5,1Z","filled":true,"color":"white","opacity":1,"size":2700,"strokeWidth":0},
   "encoding":{
    "x":{"datum":47,"type":"quantitative","scale":{"domain":[0,51],"nice":false},"axis":{"title":null,"values":[0,1,2,3,4,5,6,7,8,9,10,11,12,13,14,15,16,17,18,19,20,21,22,23,24,25,26,27,28,29,30,31,32,33,34,35,36,37,38,39,40,41,42,43,44,45,46,47,48,49,50],"labelExpr":"datum.value % 2 === 0 ? datum.label : ''"}},
    "y":{"datum":10.2,"type":"quantitative","scale":{"domain":[-0.2,11.5],"nice":false,"zero":false},"axis":{"title":null,"values":[0,0.5,1,1.5,2,2.5,3,3.5,4,4.5,5,5.5,6,6.5,7,7.5,8,8.5,9,9.5,10,10.5,11],"labelExpr":"datum.value % 1 === 0 ? format(datum.value, 'd') : ''","tickSize":{"condition":{"test":"datum.value % 1 !== 0","value":3},"value":6},"gridOpacity":{"condition":{"test":"datum.value % 1 !== 0","value":0},"value":1}}}}},
  {"transform":[{"filter":"isValid(datum.v) && datum.s === 'AHS'"}],
   "mark":{"type":"text","fontSize":44,"fontWeight":"normal","color":"black","align":"center","baseline":"middle"},
   "encoding":{
    "x":{"datum":47,"type":"quantitative","scale":{"domain":[0,51],"nice":false},"axis":{"title":null,"values":[0,1,2,3,4,5,6,7,8,9,10,11,12,13,14,15,16,17,18,19,20,21,22,23,24,25,26,27,28,29,30,31,32,33,34,35,36,37,38,39,40,41,42,43,44,45,46,47,48,49,50],"labelExpr":"datum.value % 2 === 0 ? datum.label : ''"}},
    "y":{"datum":10.1,"type":"quantitative","scale":{"domain":[-0.2,11.5],"nice":false,"zero":false},"axis":{"title":null,"values":[0,0.5,1,1.5,2,2.5,3,3.5,4,4.5,5,5.5,6,6.5,7,7.5,8,8.5,9,9.5,10,10.5,11],"labelExpr":"datum.value % 1 === 0 ? format(datum.value, 'd') : ''","tickSize":{"condition":{"test":"datum.value % 1 !== 0","value":3},"value":6},"gridOpacity":{"condition":{"test":"datum.value % 1 !== 0","value":0},"value":1}}},
    "text":{"field":"p"}}}
 ]}
}
